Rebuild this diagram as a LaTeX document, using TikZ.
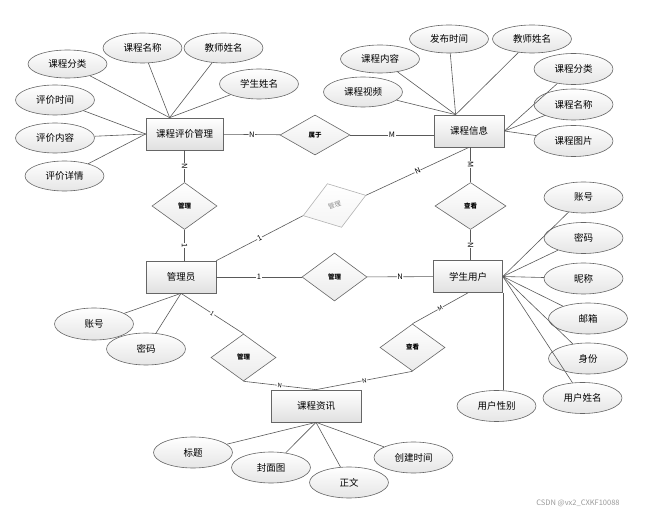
\documentclass[tikz,border=0pt]{standalone}
\usepackage{fontspec}
\setmainfont{Noto Sans CJK SC}
\usetikzlibrary{shapes.geometric}

\begin{document}
\begin{tikzpicture}[
  x=1pt, y=-1pt,
  every node/.style = {font=\fontsize{9.5}{10}\selectfont},
  line/.style = {draw=black!65, line width=0.6pt},
  entity/.style = {
    shape=rectangle,
    draw=black!60, line width=0.7pt,
    top color=white, bottom color=black!12,
    minimum width=70pt, minimum height=32pt
  },
  attr/.style = {
    shape=ellipse, inner sep=0pt,
    draw=black!60, line width=0.6pt,
    top color=white, bottom color=black!10,
    minimum width=79pt, minimum height=30pt
  },
  rel/.style = {
    shape=diamond, inner sep=0pt,
    draw=black!60, line width=0.6pt,
    top color=white, bottom color=black!8,
    minimum width=65pt, minimum height=47pt,
    font=\fontsize{6.5}{7}\selectfont\bfseries
  },
  card/.style = {fill=white, inner sep=0.5pt, sloped, font=\fontsize{7.5}{8}\selectfont}
]
\useasboundingbox (0,0) rectangle (649,513);

% entities
\node[entity, minimum width=77pt] (kcpj) at (184.5,134) {课程评价管理};
\node[entity] (kcxx) at (469,131) {课程信息};
\node[entity] (gly) at (181,277) {管理员};
\node[entity, minimum width=69pt] (xsyh) at (468,276.5) {学生用户};
\node[entity, minimum width=90pt] (kczx) at (316,406) {课程资讯};

% relations
\node[rel, minimum width=70pt, minimum height=40pt] (sy) at (315,135) {属于};
\node[rel] (gl1) at (184.5,206) {管理};
\node[rel, minimum width=66pt, minimum height=46pt, rotate=18,
  draw=black!30, top color=white, bottom color=black!4,
  text=black!45, font=\fontsize{6.5}{7}\selectfont] (gl2) at (334.5,205.5) {管理};
\node[rel, minimum height=48pt] (gl3) at (334.5,277) {管理};
\node[rel, minimum width=71pt] (ck1) at (470.5,206) {查看};
\node[rel] (gl4) at (243.5,357.5) {管理};
\node[rel] (ck2) at (412.5,347.5) {查看};

% links
\draw[line] (kcpj) -- node[card] {N} (sy);
\draw[line] (sy.east) -- node[card] {M} (sy.east -| kcxx.west);
\draw[line] (kcpj.south -| gl1.north) -- node[card] {N} (gl1.north);
\draw[line] (gl1.south) -- node[card] {1} (gl1.south |- gly.north);
\draw[line] (gly.north east) -- node[card] {1} (gl2.west);
\draw[line] (gl2.east) -- node[card] {N} (kcxx.south);
\draw[line] (ck1.north |- kcxx.south) -- node[card] {M} (ck1.north);
\draw[line] (ck1.south) -- node[card] {N} (ck1.south |- xsyh.north);
\draw[line] (gly) -- node[card] {1} (gl3);
\draw[line] (gl3) -- node[card] {N} (xsyh);
\draw[line] (gly.south) -- node[card, font=\fontsize{6}{6}\selectfont] {1} (gl4.north);
\draw[line] (gl4.south) -- node[card, font=\fontsize{6}{6}\selectfont] {N} (kczx.north);
\draw[line] (ck2.south) -- node[card, font=\fontsize{6}{6}\selectfont] {N} (kczx.north);
\draw[line] (xsyh.south) -- node[card, font=\fontsize{6}{6}\selectfont] {M} (ck2.north);

% attributes of 课程评价管理
\coordinate (kcpjT) at ([xshift=24pt]kcpj.north west);
\node[attr, minimum height=28pt] (pjfl) at (67.5,64) {课程分类};
\node[attr] (pjmc) at (142.5,48) {课程名称};
\node[attr] (pjjs) at (223.5,48) {教师姓名};
\node[attr] (pjxs) at (259,84) {学生姓名};
\node[attr] (pjsj) at (55,100) {评价时间};
\node[attr] (pjnr) at (55,138) {评价内容};
\node[attr] (pjxq) at (64.5,176) {评价详情};
\draw[line] (pjfl) -- (kcpjT);
\draw[line] (pjmc) -- (kcpjT);
\draw[line] (pjjs) -- (kcpjT);
\draw[line] (pjxs) -- (kcpjT);
\draw[line] (pjsj) -- (kcpj.west);
\draw[line] (pjnr) -- (kcpj.west);
\draw[line] (pjxq) -- (kcpj.west);

% attributes of 课程信息
\coordinate (kcxxT) at ([xshift=22pt]kcxx.north west);
\node[attr, minimum height=28pt] (xxnr) at (380,59) {课程内容};
\node[attr, minimum height=28pt] (xxsj) at (449,39) {发布时间};
\node[attr, minimum height=28pt] (xxjs) at (532,39) {教师姓名};
\node[attr] (xxsp) at (363,92) {课程视频};
\node[attr, minimum height=31pt] (xxfl) at (573.5,69) {课程分类};
\node[attr, minimum height=31pt] (xxmc) at (573.5,104.5) {课程名称};
\node[attr, minimum height=31pt] (xxtp) at (573.5,141) {课程图片};
\draw[line] (xxnr) -- (kcxxT);
\draw[line] (xxsj) -- (kcxxT);
\draw[line] (xxjs) -- (kcxxT);
\draw[line] (xxsp) -- (kcxxT);
\draw[line] (xxfl) -- (kcxx.east);
\draw[line] (xxmc) -- (kcxx.east);
\draw[line] (xxtp) -- (kcxx.east);

% attributes of 学生用户
\node[attr, minimum height=31pt] (yhzh) at (583.5,197.5) {账号};
\node[attr, minimum height=31pt] (yhmm) at (583.5,238) {密码};
\node[attr, minimum height=31pt] (yhnc) at (583.5,278.5) {昵称};
\node[attr, minimum height=31pt] (yhyx) at (588,318.5) {邮箱};
\node[attr, minimum height=31pt] (yhsf) at (588,358.5) {身份};
\node[attr, minimum height=31pt] (yhxm) at (582.5,398) {用户姓名};
\node[attr, minimum height=31pt] (yhxb) at (496.5,406) {用户性别};
\draw[line] (yhzh) -- (xsyh.east);
\draw[line] (yhmm) -- (xsyh.east);
\draw[line] (yhnc) -- (xsyh.east);
\draw[line] (yhyx) -- (xsyh.east);
\draw[line] (yhsf) -- (xsyh.east);
\draw[line] (yhxm) -- (xsyh.east);
\draw[line] (xsyh.south east) -- (xsyh.south east |- yhxb.north);

% attributes of 管理员
\node[attr, minimum height=32pt] (glzh) at (94,324) {账号};
\node[attr, minimum height=32pt] (glmm) at (146,349) {密码};
\draw[line] (glzh) -- (gly.south);
\draw[line] (glmm) -- (gly.south);

% attributes of 课程资讯
\node[attr, minimum height=31pt] (zxbt) at (193,452.5) {标题};
\node[attr, minimum height=31pt] (zxfm) at (271,467.5) {封面图};
\node[attr, minimum height=31pt] (zxzw) at (349,482.5) {正文};
\node[attr, minimum height=31pt] (zxsj) at (413.5,457.5) {创建时间};
\draw[line] (zxbt) -- (kczx.south);
\draw[line] (zxfm) -- (kczx.south);
\draw[line] (zxzw) -- (kczx.south);
\draw[line] (zxsj) -- (kczx.south);

\node[text=black!40, font=\fontsize{7.5}{8}\selectfont] (wm) at (578,503) {CSDN @vx2\_CXKF10088};

\end{tikzpicture}
\end{document}
